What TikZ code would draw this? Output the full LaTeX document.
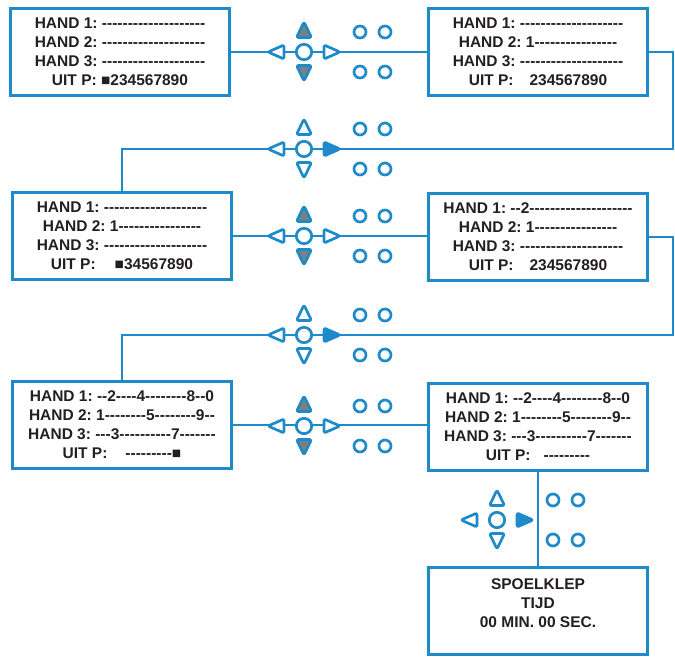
\documentclass[tikz,border=0pt]{standalone}
\usepackage{fontspec}
\setmainfont{Liberation Sans}[Ligatures=TeXOff]
\usepackage{tikz}
\usetikzlibrary{calc}

\definecolor{panelblue}{HTML}{1F8AC9}
\definecolor{keygrey}{HTML}{7F7F7F}
\definecolor{lcdtext}{HTML}{231F20}

\frenchspacing

\begin{document}
\begin{tikzpicture}[x=1pt,y=-1pt,
    wire/.style={panelblue,line width=2.8pt},
    keyline/.style={draw=panelblue,line width=2.7pt,rounded corners=2pt,line join=round},
    lcdfont/.style={text=lcdtext,align=center,font=\bfseries\fontsize{15.5}{19}\selectfont},
    screen/.style={draw=panelblue,line width=2.8pt,fill=white,minimum width=219pt,minimum height=87pt,inner sep=0pt,lcdfont},
    pics/keypad/.style n args={3}{code={
      \draw[keyline,fill=white] (-20,0) -- (-20,-7) -- (-36,0) -- (-20,7) -- cycle;
      \draw[keyline,fill=#3] (20,0) -- (20,-7) -- (36,0) -- (20,7) -- cycle;
      \draw[keyline,fill=#1] (0,-14.5) -- (-7.5,-14.5) -- (0,-30) -- (7.5,-14.5) -- cycle;
      \draw[keyline,fill=#2] (0,13.5) -- (-7.5,13.5) -- (0,29) -- (7.5,13.5) -- cycle;
      \draw[keyline,fill=white] (0,0) circle (7.7);
      \foreach \kx in {56,81} \foreach \ky in {-20,20} \draw[keyline] (\kx,\ky) circle (6);
    }}]

      \useasboundingbox (0,0) rectangle (675,657);

      % turning points of the links between rows
      \coordinate (t1) at (673,149);
      \coordinate (t2) at (673,335);

      % first row
      \node[screen] (b1) at (120,52) {HAND 1: --------------------\\HAND 2: --------------------\\HAND 3: --------------------\\UIT P: ■234567890};
      \node[screen] (b2) at (538,52) {HAND 1: --------------------\\HAND 2: 1----------------\\HAND 3: --------------------\\UIT P:\hspace{16pt}234567890};

      % second row
      \node[screen] (b3) at (122,236) {HAND 1: --------------------\\HAND 2: 1----------------\\HAND 3: --------------------\\UIT P:\hspace{19pt}■34567890};
      \node[screen] (b4) at (538,237) {HAND 1: --2--------------------\\HAND 2: 1----------------\\HAND 3: --------------------\\UIT P:\hspace{16pt}234567890};

      % third row
      \node[screen] (b5) at (122,425) {HAND 1: --2----4--------8--0\\HAND 2: 1--------5--------9--\\HAND 3: ---3----------7-------\\UIT P:\hspace{18pt}---------■};
      \node[screen] (b6) at (538,427) {HAND 1: --2----4--------8--0\\HAND 2: 1--------5--------9--\\HAND 3: ---3----------7-------\\UIT P:\hspace{13pt}---------};

      % rinse valve
      \node[screen] (b7) at (538,611) {};
      \node[lcdfont] (b7txt) at (538,603) {SPOELKLEP\\TIJD\\00 MIN. 00 SEC.};

      % links
      \draw[wire] (b1) -- (b2);
      \draw[wire] (b2.east) -| (t1) -| (b3.north);
      \draw[wire] (b3.east) -- (b4.west |- b3.east);
      \draw[wire] (b4.east) -| (t2) -| (b5.north);
      \draw[wire] (b5.east) -- (b6.west |- b5.east);
      \draw[wire] (b6) -- (b7);

      % keypads
      \pic at (304,52) {keypad={keygrey}{keygrey}{white}};
      \pic at (304,149) {keypad={white}{white}{panelblue}};
      \pic at (304,236) {keypad={keygrey}{keygrey}{white}};
      \pic at (304,335) {keypad={white}{white}{panelblue}};
      \pic at (304,426) {keypad={keygrey}{keygrey}{white}};
      \pic at (497,520) {keypad={white}{white}{panelblue}};

\end{tikzpicture}
\end{document}
